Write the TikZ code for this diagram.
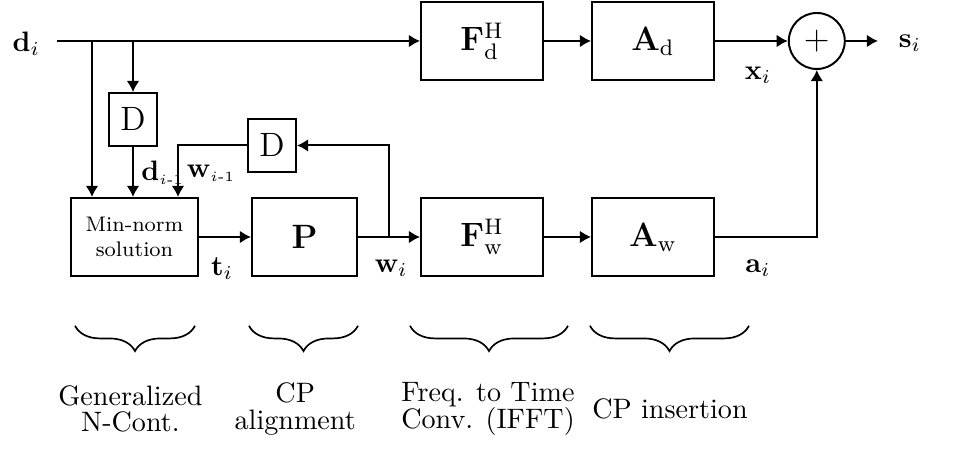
\documentclass[tikz,border=0pt]{standalone}
\usepackage{amsmath,amssymb}
\usepackage{tikz}
\usetikzlibrary{decorations.pathreplacing,arrows.meta}

\begin{document}
\begin{tikzpicture}[>={Latex[length=1.4mm,width=1.6mm]}, line width=0.7pt,
  block/.style={draw, minimum width=1.525cm, minimum height=0.975cm, inner sep=0pt, font=\large},
  delay/.style={draw, minimum width=0.6cm, minimum height=0.66cm, inner sep=0pt, font=\large},
  sum/.style={draw, circle, minimum size=0.7cm, inner sep=0pt},
  cbrace/.style={decorate, decoration={brace, mirror, amplitude=9pt}, line width=0.6pt},
  caption/.style={align=center, font=\fontsize{10}{9.5}\selectfont}]
\useasboundingbox (0,0) rectangle (11.975,5.6625);

% blocks
\node[block] (fd) at (6.025,5.15) {$\mathbf{F}_{\mathrm{d}}^{\mathrm{H}}$};
\node[block] (ad) at (8.1625,5.15) {$\mathbf{A}_{\mathrm{d}}$};
\node[sum] (sum) at (10.21,5.15) {\large$+$};
\node[block, minimum width=1.5875cm, font=\fontsize{7.5}{9}\selectfont, align=center] (mn) at (1.681,2.70) {Min-norm\\solution};
\node[block, minimum width=1.3125cm] (p) at (3.806,2.70) {$\mathbf{P}$};
\node[block] (fw) at (6.025,2.70) {$\mathbf{F}_{\mathrm{w}}^{\mathrm{H}}$};
\node[block] (aw) at (8.1625,2.70) {$\mathbf{A}_{\mathrm{w}}$};
\node[delay] (d1) at (1.6625,4.169) {D};
\node[delay] (d2) at (3.4,3.844) {D};

% signal labels
\node (din) at (0.33,5.12) {$\mathbf{d}_i$};
\node (sout) at (11.375,5.12) {$\mathbf{s}_i$};
\node (xl) at (9.475,4.725) {$\mathbf{x}_i$};
\node (al) at (9.475,2.31) {$\mathbf{a}_i$};
\node (tl) at (2.775,2.31) {$\mathbf{t}_i$};
\node (wl) at (4.89,2.31) {$\mathbf{w}_i$};
\node[anchor=west, inner sep=1pt] (dl) at (1.72,3.5) {$\mathbf{d}_{\scriptscriptstyle i\text{-}1}$};
\node[anchor=west, inner sep=1pt] (wml) at (2.29,3.5) {$\mathbf{w}_{\scriptscriptstyle i\text{-}1}$};

\coordinate (in) at (0.71,5.15);
\coordinate (out) at (10.975,5.15);
\coordinate (b1) at (1.15,5.15);
\coordinate (b2) at (1.6625,5.15);
\coordinate (b3) at (4.8625,2.70);
\coordinate (fb) at (2.225,0);

% connectors
\draw[->] (in) -- (fd.west);
\draw[->] (b1) -- (b1 |- mn.north);
\draw[->] (b2) -- (d1.north);
\draw[->] (d1.south) -- (d1 |- mn.north);
\draw[->] (fd) -- (ad);
\draw[->] (ad) -- (sum);
\draw[->] (sum) -- (out);
\draw[->] (mn) -- (p);
\draw[->] (p) -- (fw);
\draw[->] (fw) -- (aw);
\draw[->] (aw.east) -| (sum.south);
\draw[->] (b3) |- (d2.east);
\draw[->] (d2.west) -| (fb |- mn.north);

% stages
\draw[cbrace] (0.9375,1.59) -- (2.4375,1.59);
\draw[cbrace] (3.1125,1.59) -- (4.475,1.59);
\draw[cbrace] (5.125,1.59) -- (7.1,1.59);
\draw[cbrace] (7.375,1.59) -- (9.3625,1.59);
\node[caption] (lab1) at (1.63,0.55) {Generalized\\N-Cont.};
\node[caption] (lab2) at (3.69,0.55) {CP\\alignment};
\node[caption] (lab3) at (6.1,0.55) {Freq. to Time\\Conv. (IFFT)};
\node[caption] (lab4) at (8.375,0.55) {CP insertion};
\end{tikzpicture}
\end{document}
